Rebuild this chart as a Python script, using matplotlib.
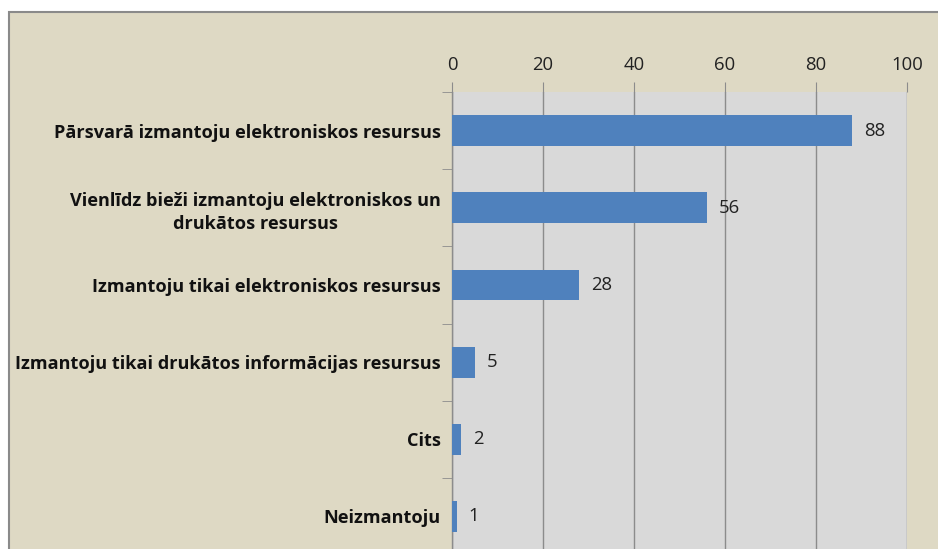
import matplotlib.pyplot as plt
from matplotlib.patches import Rectangle

# atbilžu kategorijas un skaits
categories = [
    "Pārsvarā izmantoju elektroniskos resursus",
    "Vienlīdz bieži izmantoju elektroniskos un\ndrukātos resursus",
    "Izmantoju tikai elektroniskos resursus",
    "Izmantoju tikai drukātos informācijas resursus",
    "Cits",
    "Neizmantoju",
]
values = [88, 56, 28, 5, 2, 1]
xticks = [0, 20, 40, 60, 80, 100]

plt.rcParams['font.family'] = ['Open Sans', 'DejaVu Sans']

fig = plt.figure(figsize=(9.38, 5.49), dpi=100)
fig.patch.set_facecolor('white')

# fons ar rāmi
frame = Rectangle((9 / 938, -0.05), 1.0, 1 - 12 / 549 + 0.05,
                  transform=fig.transFigure, facecolor='#DED9C4',
                  edgecolor='#8A8A8A', linewidth=1.5, zorder=-1)
fig.patches.append(frame)

ax = fig.add_axes([452 / 938, -0.011, 455 / 938, 0.8434])
ax.set_facecolor('#D9D9D9')

y = list(range(len(categories)))
ax.barh(y, values, height=0.4, color='#4F81BD', zorder=3)
ax.set_ylim(len(categories) - 0.5, -0.5)
ax.set_xlim(0, 100)

for yi, v in zip(y, values):
    ax.text(v + 2.6, yi, str(v), va='center', ha='left', fontsize=13.3,
            color='#222222', zorder=4)

ax.xaxis.tick_top()
ax.set_xticks(xticks)
ax.set_xticklabels([str(t) for t in xticks], fontsize=13.3, color='#222222')
ax.tick_params(axis='x', length=7, color='#8C8C8C', pad=6)
ax.grid(axis='x', color='#8C8C8C', linewidth=1, zorder=1)

# iedaļas starp kategorijām
ax.set_yticks([i - 0.5 for i in range(len(categories) + 1)], minor=True)
ax.set_yticks(y)
ax.set_yticklabels(categories, fontsize=13.1, fontweight='bold',
                   multialignment='center', linespacing=1.4, color='#111111')
ax.tick_params(axis='y', which='major', length=0, pad=8)
ax.tick_params(axis='y', which='minor', length=7, color='#8C8C8C')

for side in ['top', 'right', 'bottom']:
    ax.spines[side].set_visible(False)
ax.spines['left'].set_color('#8C8C8C')
ax.spines['left'].set_linewidth(1)

fig.savefig('out.png', dpi=100)
